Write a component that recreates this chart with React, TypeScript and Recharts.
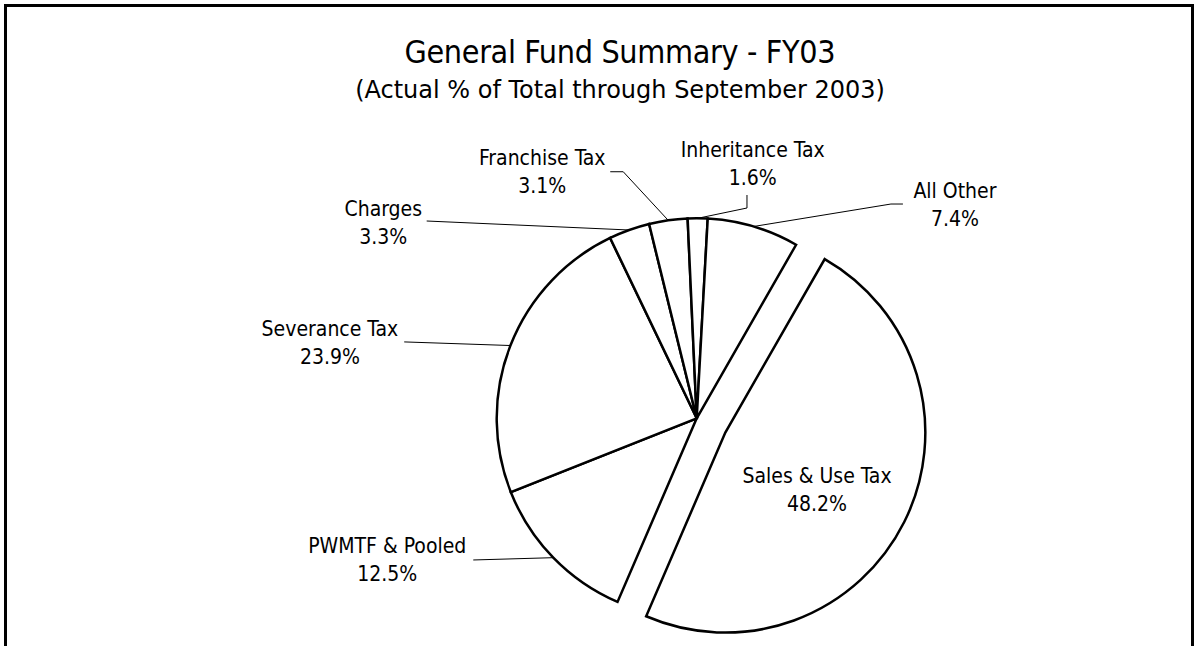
import { PieChart, Pie, Cell } from "recharts";

// slices in clockwise order, starting at the exploded one
const CATEGORIES = [
  "Sales & Use Tax",
  "PWMTF & Pooled",
  "Severance Tax",
  "Charges",
  "Franchise Tax",
  "Inheritance Tax",
  "All Other",
];
const SHARES = [48.2, 12.5, 23.9, 3.3, 3.1, 1.6, 7.4];
const EXPLODED = "Sales & Use Tax";

const TITLE = "General Fund Summary - FY03";
const SUBTITLE = "(Actual % of Total through September 2003)";

const W = 1195;
const H = 646;
const CX = 691.7;
const CY = 413.3;
const R = 200;
const START = 60.2;
const EXPLODE = 32;
const RAD = Math.PI / 180;
const FONT = "'DejaVu Sans Condensed', 'DejaVu Sans', sans-serif";

// label text offset (first baseline) from the slice's arc midpoint,
// leader points go from the text side to the arc
const LABELS: Record<string, { dx: number; dy: number; leader: number[][]; inside?: boolean }> = {
  "Franchise Tax": { dx: -126, dy: -55, leader: [[-58, -48.6], [-45, -48.6]] },
  "Inheritance Tax": { dx: 55, dy: -61.6, leader: [[49.3, -23.3], [49.3, -10.3]] },
  "All Other": { dx: 201.5, dy: -28.5, leader: [[149.5, -22.5], [137.5, -22.5]] },
  Charges: { dx: -246, dy: -14.3, leader: [[-202.6, -9]] },
  "Severance Tax": { dx: -180.5, dy: -9.6, leader: [[-106.2, -3.6]] },
  "PWMTF & Pooled": { dx: -166, dy: -4.7, leader: [[-80, 2.3]] },
  "Sales & Use Tax": { dx: 91.7, dy: 50.4, leader: [], inside: true },
};

const data = CATEGORIES.map((name, i) => ({ name, value: SHARES[i] }));

const total = SHARES.reduce((a, b) => a + b, 0);
const expIdx = CATEGORIES.indexOf(EXPLODED);
const before = SHARES.slice(0, expIdx).reduce((a, b) => a + b, 0);
const expMid = START - ((before + SHARES[expIdx] / 2) / total) * 360;
const CX2 = CX + EXPLODE * Math.cos(expMid * RAD);
const CY2 = CY - EXPLODE * Math.sin(expMid * RAD);

function makeLabel(exploded: boolean) {
  return (p: any) => {
    const name = p.payload?.name ?? p.name;
    if ((name === EXPLODED) !== exploded) return <g />;
    const cfg = LABELS[name];
    const r = cfg.inside ? 0 : p.outerRadius;
    const ax = p.cx + r * Math.cos(-p.midAngle * RAD);
    const ay = p.cy + r * Math.sin(-p.midAngle * RAD);
    const tx = ax + cfg.dx;
    const ty = ay + cfg.dy;
    const pts = [...cfg.leader.map(([x, y]) => `${ax + x},${ay + y}`), `${ax},${ay}`];
    return (
      <g>
        {cfg.leader.length > 0 && (
          <polyline points={pts.join(" ")} fill="none" stroke="#000" strokeWidth={1} />
        )}
        <text x={tx} y={ty} textAnchor="middle" fontFamily={FONT} fontSize={21} fill="#000">
          <tspan x={tx}>{name}</tspan>
          <tspan x={tx} dy={28}>{`${Number(p.value).toFixed(1)}%`}</tspan>
        </text>
      </g>
    );
  };
}

export default function App() {
  return (
    <div
      style={{
        position: "absolute",
        left: 0,
        top: 0,
        width: W,
        height: H,
        overflow: "hidden",
        background: "#fff",
      }}
    >
      <div
        style={{
          position: "absolute",
          left: 4,
          top: 4,
          width: 1190,
          height: 800,
          border: "3px solid #000",
          boxSizing: "border-box",
        }}
      />
      <PieChart width={W} height={H} style={{ position: "absolute", left: 0, top: 0 }}>
        <Pie
          data={data}
          dataKey="value"
          nameKey="name"
          cx={CX}
          cy={CY}
          outerRadius={R}
          startAngle={START}
          endAngle={START - 360}
          stroke="#000"
          strokeWidth={2.5}
          label={makeLabel(false)}
          labelLine={false}
          isAnimationActive={false}
        >
          {data.map((d) => (
            <Cell
              key={d.name}
              fill={d.name === EXPLODED ? "none" : "#fff"}
              stroke={d.name === EXPLODED ? "none" : "#000"}
            />
          ))}
        </Pie>
        <Pie
          data={data}
          dataKey="value"
          nameKey="name"
          cx={CX2}
          cy={CY2}
          outerRadius={R}
          startAngle={START}
          endAngle={START - 360}
          stroke="#000"
          strokeWidth={2.5}
          label={makeLabel(true)}
          labelLine={false}
          isAnimationActive={false}
        >
          {data.map((d) => (
            <Cell
              key={d.name}
              fill={d.name === EXPLODED ? "#fff" : "none"}
              stroke={d.name === EXPLODED ? "#000" : "none"}
            />
          ))}
        </Pie>
      </PieChart>
      <svg
        width={W}
        height={H}
        style={{ position: "absolute", left: 0, top: 0, pointerEvents: "none" }}
      >
        <text
          x={620}
          y={62.7}
          textAnchor="middle"
          fontFamily={FONT}
          fontSize={32}
          fill="#000"
          textLength={431}
          lengthAdjust="spacing"
        >
          {TITLE}
        </text>
        <text
          x={620}
          y={98.3}
          textAnchor="middle"
          fontFamily="'DejaVu Sans', sans-serif"
          fontSize={24}
          fill="#000"
        >
          {SUBTITLE}
        </text>
      </svg>
    </div>
  );
}
